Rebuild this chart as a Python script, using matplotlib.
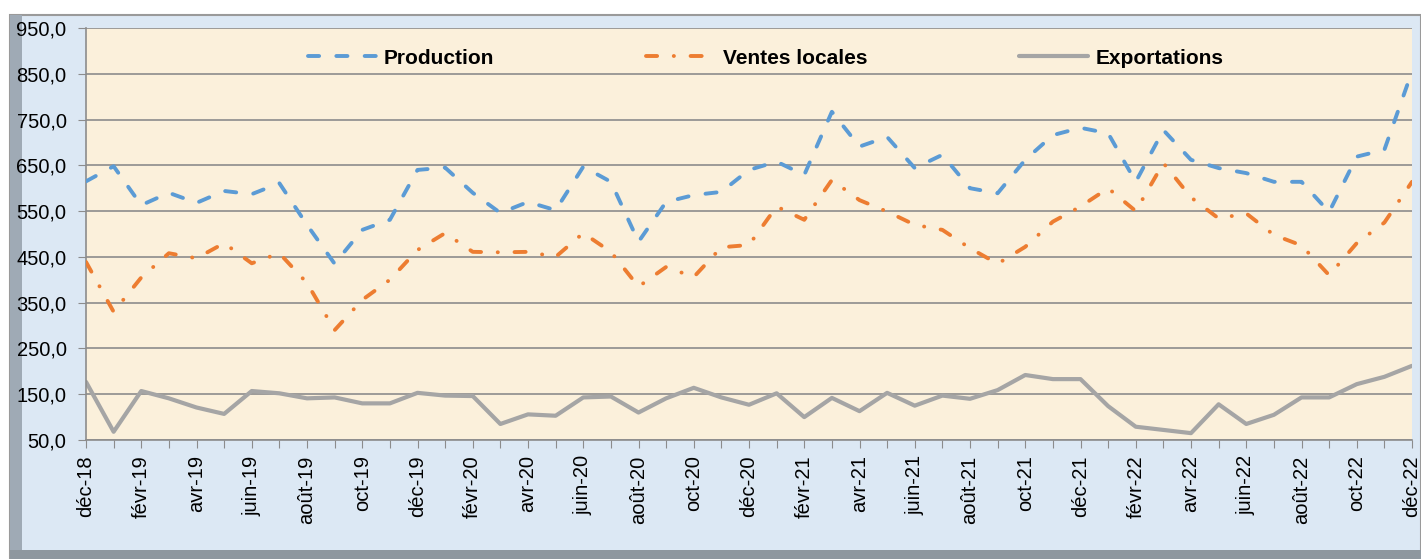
import matplotlib
matplotlib.use("Agg")
import matplotlib.pyplot as plt
from matplotlib.patches import Rectangle
from matplotlib.ticker import FuncFormatter

plt.rcParams['font.family'] = ['Liberation Sans', 'DejaVu Sans']
plt.rcParams['lines.scale_dashes'] = False

# mois de déc-18 à déc-22
mois = ["janv", "févr", "mars", "avr", "mai", "juin",
        "juil", "août", "sept", "oct", "nov", "déc"]
periodes = ["déc-18"] + [f"{m}-{a}" for a in range(19, 23) for m in mois]

production = [615, 648, 563, 590, 568, 594, 587, 611, 520, 435, 509, 531,
              640, 645, 590, 546, 570, 552, 647, 614, 483, 570, 585, 592,
              640, 658, 629, 767, 691, 712, 644, 673, 600, 589, 662, 716,
              732, 720, 614, 727, 662, 644, 633, 614, 614, 548, 669, 684, 855]

ventes_locales = [439, 330, 405, 458, 447, 480, 436, 458, 393, 290, 356, 400,
                  465, 502, 461, 460, 461, 450, 502, 461, 385, 428, 406, 471,
                  476, 560, 531, 618, 574, 549, 520, 509, 469, 435, 472, 527,
                  560, 600, 550, 655, 580, 534, 545, 498, 475, 410, 480, 525, 614]

exportations = [177, 68, 157, 141, 121, 107, 157, 152, 141, 143, 130, 130,
                153, 147, 146, 85, 106, 103, 143, 145, 110, 141, 164, 143,
                127, 152, 100, 142, 113, 153, 125, 147, 140, 159, 192, 183,
                183, 124, 79, 72, 65, 128, 85, 105, 143, 143, 172, 188, 212]

x = list(range(len(periodes)))

W, H = 1421, 559
fig = plt.figure(figsize=(W / 100, H / 100), dpi=100)
fig.patch.set_facecolor("white")

# cadre extérieur
fig.add_artist(Rectangle((10 / W, 0), 1 - 10 / W, 1 - 15 / H,
                         transform=fig.transFigure, facecolor="#DCE8F4",
                         edgecolor="#9A9A9A", linewidth=1.5, zorder=-10))
fig.add_artist(Rectangle((10 / W, 0), 12 / W, 1 - 15 / H,
                         transform=fig.transFigure, facecolor="#9FAAB5",
                         edgecolor="none", zorder=-9))
fig.add_artist(Rectangle((10 / W, 0), 1 - 10 / W, 9 / H,
                         transform=fig.transFigure, facecolor="#8E979F",
                         edgecolor="none", zorder=-9))

ax = fig.add_axes([86 / W, 1 - 440 / H, 1326 / W, 412 / H])
ax.set_zorder(1)
ax.set_facecolor("#FBF0DB")

ax.plot(x, production, color="#5B9BD5", lw=2.8, dashes=(8, 12.4),
        dash_capstyle="round", label="Production", zorder=3)
ax.plot(x, ventes_locales, color="#ED7D31", lw=2.8, dashes=(8, 12, 0.1, 12),
        dash_capstyle="round", label="Ventes locales", zorder=3)
ax.plot(x, exportations, color="#A5A5A5", lw=3, solid_capstyle="round",
        label="Exportations", zorder=2)

ax.set_xlim(0, len(periodes) - 1)
ax.set_ylim(50, 950)
ax.set_yticks(range(50, 951, 100))
ax.yaxis.set_major_formatter(FuncFormatter(lambda v, p: f"{v:.1f}".replace(".", ",")))
ax.set_xticks(x)
ax.set_xticklabels([p if i % 2 == 0 else "" for i, p in enumerate(periodes)],
                   rotation=90)

ax.grid(axis="y", color="#8C8C8C", lw=1.2)
ax.set_axisbelow(True)
for s in ["top", "right"]:
    ax.spines[s].set_visible(False)
for s in ["left", "bottom"]:
    ax.spines[s].set_color("#8C8C8C")
    ax.spines[s].set_linewidth(1.2)

ax.tick_params(axis="y", labelsize=14.5, length=6, color="#8C8C8C", pad=8)
ax.tick_params(axis="x", labelsize=14.5, length=6, color="#8C8C8C", pad=5)

leg = ax.legend(loc="center", bbox_to_anchor=(0.5125, 0.927), ncol=3,
                frameon=False, handlelength=3.3, handletextpad=0.35,
                columnspacing=7.3, prop={"weight": "bold", "size": 15})

fig.savefig("out.png", dpi=100, facecolor=fig.get_facecolor())
